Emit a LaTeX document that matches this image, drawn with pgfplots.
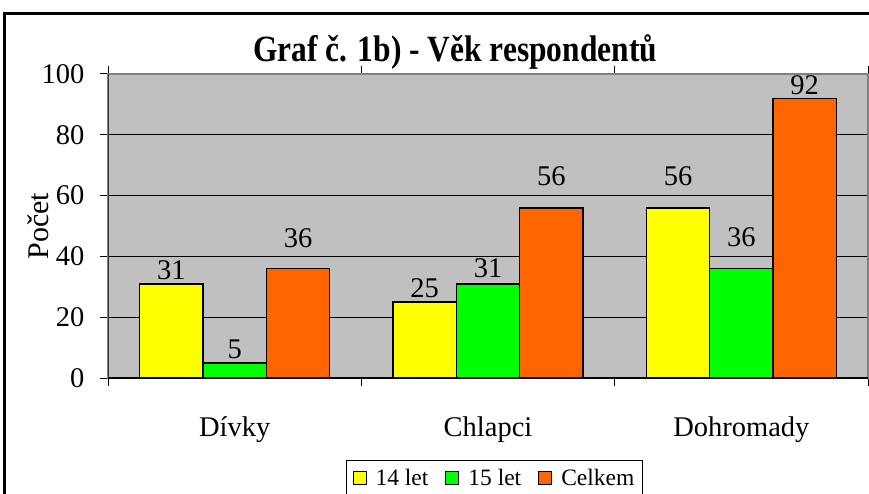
\documentclass[border=0pt]{standalone}
\usepackage{fontspec}
\setmainfont{Liberation Serif}
\usepackage{graphicx}
\usepackage{pgfplots}
\usepackage{pgfplotstable}
\pgfplotsset{compat=1.18}

\definecolor{cyel}{RGB}{255,255,0}
\definecolor{cgrn}{RGB}{0,255,0}
\definecolor{corg}{RGB}{255,102,0}
\definecolor{cgray}{RGB}{192,192,192}

% x = category (0 Dívky, 1 Chlapci, 2 Dohromady), y = count, off = label lift
\pgfplotstableread{
x y off
0 31 0
1 25 0
2 56 18
}\tabA
\pgfplotstableread{
x y off
0 5 0
1 31 2
2 36 18
}\tabB
\pgfplotstableread{
x y off
0 36 17
1 56 18
2 92 -1
}\tabC

\begin{document}
\begin{tikzpicture}[x=1pt,y=1pt]
\clip (0,0) rectangle (869,493);
\fill[white] (0,0) rectangle (869,493);
\draw[line width=3pt] (4,479) rectangle (900,-20);
\begin{axis}[
  at={(108pt,115pt)}, anchor=south west,
  width=760pt, height=304pt, scale only axis,
  ybar=0pt, bar width=0.25,
  xmin=-0.5, xmax=2.5, ymin=0, ymax=100,
  xtick={-0.5,0.5,1.5,2.5}, x tick label as interval,
  xticklabels={Dívky,Chlapci,Dohromady},
  ytick={0,20,...,100},
  tick align=outside, major tick length=8pt,
  tick style={black, line width=1pt},
  ymajorgrids, grid style={black, line width=0.8pt},
  axis background/.style={fill=cgray},
  axis line style={draw=gray, line width=1.5pt},
  /pgf/number format/assume math mode=true,
  tick label style={font=\fontsize{28.5}{30}\selectfont},
  xticklabel style={yshift=-27pt},
  yticklabel style={xshift=-12pt},
  ylabel={Počet},
  ylabel style={font=\fontsize{30}{32}\selectfont, at={(axis description cs:-0.0921,0.5)}, anchor=center},
  title={\scalebox{0.85}[1]{Graf č. 1b) - Věk respondentů}},
  title style={font=\bfseries\fontsize{37}{40}\selectfont, at={(axis description cs:0.4566,1)}, anchor=base, yshift=6pt},
  nodes near coords,
  visualization depends on={\thisrow{off} \as \off},
  every node near coord/.append style={font=\fontsize{28.5}{30}\selectfont, black, yshift=\off pt},
  legend columns=3,
  legend style={at={(axis description cs:0.5085,-0.27)}, anchor=north, draw=black, line width=1pt,
    font=\fontsize{23.5}{25}\selectfont, inner ysep=7pt, inner xsep=6pt,
    /tikz/every odd column/.append style={column sep=7pt},
    /tikz/every even column/.append style={column sep=15pt}},
  legend image code/.code={\draw[#1, draw=black, line width=1pt] (0pt,-6.5pt) rectangle (13pt,6.5pt);},
]
\addplot[fill=cyel, draw=black, line width=1.5pt] table[x=x,y=y] {\tabA};
\addplot[fill=cgrn, draw=black, line width=1.5pt] table[x=x,y=y] {\tabB};
\addplot[fill=corg, draw=black, line width=1.5pt] table[x=x,y=y] {\tabC};
\legend{14 let,15 let,Celkem}
\draw[black, line width=1.5pt] (rel axis cs:0,0) -- (rel axis cs:1,0);
\draw[black!80, line width=1.2pt] (rel axis cs:0,0) -- (rel axis cs:0,1);
\end{axis}
\end{tikzpicture}
\end{document}
